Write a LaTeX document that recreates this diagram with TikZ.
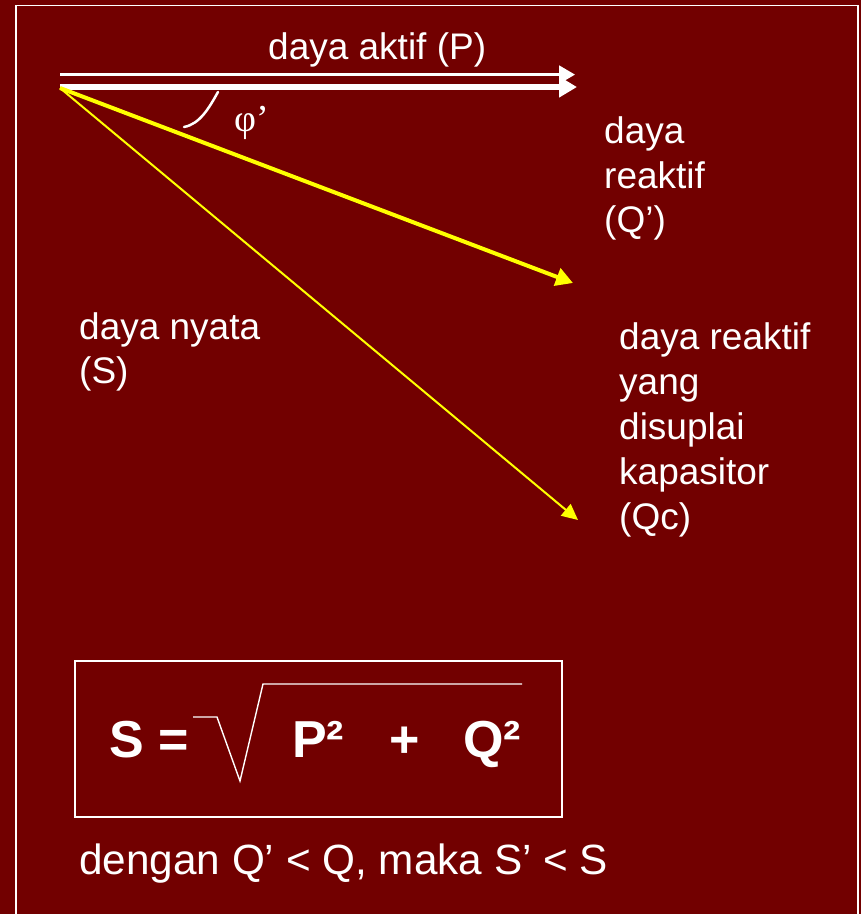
\documentclass[tikz,border=0pt]{standalone}
\usepackage{fontspec}
\setmainfont{Liberation Sans}
\newfontfamily\phifont{Liberation Serif}
\usetikzlibrary{arrows.meta}
\definecolor{bgred}{RGB}{114,0,0}
\definecolor{ylw}{RGB}{255,255,0}
\tikzset{
  lbl/.style={text=white, inner sep=0pt, anchor=base west, font=\fontsize{37}{45}\selectfont},
  bottomlbl/.style={text=white, inner sep=0pt, anchor=base west, font=\fontsize{42.3}{50}\selectfont},
  formula/.style={text=white, inner sep=0pt, anchor=base west, font=\fontsize{52}{60}\selectfont\bfseries},
  whitearrowthin/.style={draw=white, line width=2.5pt, -{Triangle[length=16pt,width=18pt]}},
  whitearrowthick/.style={draw=white, line width=5.5pt, -{Triangle[length=18pt,width=20pt]}},
  yellowthick/.style={draw=ylw, line width=4pt, -{Triangle[length=17pt,width=18pt]}},
  yellowthin/.style={draw=ylw, line width=2pt, -{Triangle[length=16pt,width=15pt]}},
}
\begin{document}
\begin{tikzpicture}[x=1pt,y=-1pt]
\fill[bgred] (0,0) rectangle (861,914);
\useasboundingbox (0,0) rectangle (861,914);
% frame
\draw[white, line width=1.8pt] (15.8,916) -- (15.8,5.5) -- (858.2,5.5) -- (858.2,916);
% coordinates
\coordinate (Pa) at (60,74.6);
\coordinate (Pb) at (575,74.6);
\coordinate (Pc) at (60,87);
\coordinate (Pd) at (577,87);
\coordinate (O) at (60,88);
\coordinate (Qtip) at (573,283);
\coordinate (Stip) at (578,520);
% arrows
\draw[whitearrowthin] (Pa) -- (Pb);
\draw[whitearrowthick] (Pc) -- (Pd);
\draw[yellowthin] (O) -- (Stip);
\draw[yellowthick] (O) -- (Qtip);
% angle arc
\coordinate (arcA) at (184,127);
\coordinate (arcB) at (218,92);
\draw[white, line width=2.5pt, line cap=round] (arcA) .. controls (200,124) and (209,108) .. (arcB);
\node[text=white, inner sep=0pt, anchor=base west, font=\phifont\fontsize{38}{44}\selectfont] (phi) at (234,131) {φ’};
% labels
\node[lbl] (p) at (268,59) {daya aktif (P)};
\node[lbl] (q1) at (604,143) {daya};
\node[lbl] (q2) at (604,188) {reaktif};
\node[lbl] (q3) at (604,232) {(Q’)};
\node[lbl] (s1) at (79,339) {daya nyata};
\node[lbl] (s2) at (79,383) {(S)};
\node[lbl] (c1) at (619,349) {daya reaktif};
\node[lbl] (c2) at (619,394) {yang};
\node[lbl] (c3) at (619,439) {disuplai};
\node[lbl] (c4) at (619,484) {kapasitor};
\node[lbl] (c5) at (619,529) {(Qc)};
% formula box
\draw[white, line width=2pt] (75,661) rectangle (561.7,816.7);
\node[formula] (fs) at (109,757) {S =};
\draw[white, line width=1.4pt] (193,717) -- (217,717) -- (240,781) -- (263,684) -- (522,684);
\node[formula] (fp) at (292,757) {P²};
\node[formula, anchor=base] (fplus) at (405,757) {+};
\node[formula] (fq) at (463,757) {Q²};
% bottom text
\node[bottomlbl] (bt) at (79,874) {dengan Q’ < Q, maka S’ < S};
\end{tikzpicture}
\end{document}
